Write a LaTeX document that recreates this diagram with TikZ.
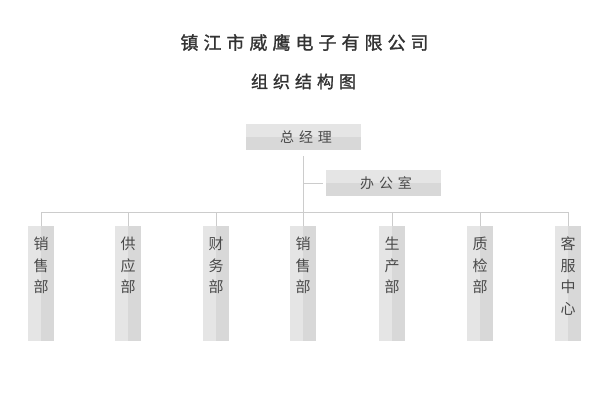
\documentclass[tikz,border=0pt]{standalone}
\usepackage{fontspec}
\newfontfamily\cjk{Noto Sans CJK SC}
\newfontfamily\cjkm[FakeBold=1.2]{Noto Sans CJK SC}
\definecolor{boxlight}{HTML}{E5E5E5}
\definecolor{boxdark}{HTML}{D8D8D8}
\definecolor{linec}{HTML}{CCCCCC}
\definecolor{titlec}{HTML}{333333}
\definecolor{textc}{HTML}{4A4A4A}
\newcommand{\csp}{\hspace{5pt}}
\begin{document}
\begin{tikzpicture}[x=1pt,y=-1pt,
  hbox/.style={rectangle,inner sep=0pt,minimum width=115pt,minimum height=26pt,fill=boxlight,
    path picture={\fill[boxdark] (path picture bounding box.west) rectangle (path picture bounding box.south east);},
    font=\cjk\fontsize{14}{16}\selectfont,text=textc},
  vbox/.style={rectangle,inner sep=0pt,minimum width=26pt,minimum height=115pt,fill=boxlight,
    path picture={\fill[boxdark] (path picture bounding box.north) rectangle (path picture bounding box.south east);}},
  vtext/.style={anchor=north,inner sep=0pt,align=center,font=\cjk\fontsize{15}{21.5}\selectfont,text=textc},
  conn/.style={draw=linec,line width=1pt}]
\fill[white] (0,0) rectangle (600,400);
\useasboundingbox (0,0) rectangle (600,400);
\node[font=\cjkm\fontsize{18}{20}\selectfont,text=titlec] (title) at (302,42.5)
  {\hspace{5pt}镇\csp 江\csp 市\csp 威\csp 鹰\csp 电\csp 子\csp 有\csp 限\csp 公\csp 司};
\node[font=\cjkm\fontsize{17}{19}\selectfont,text=titlec] (sub) at (301,81.5)
  {\hspace{5pt}组\csp 织\csp 结\csp 构\csp 图};
\node[hbox] (gm) at (303.5,137) {\hspace{5pt}总\csp 经\csp 理};
\node[hbox] (office) at (383.5,183) {\hspace{5pt}办\csp 公\csp 室};
\foreach \i/\x in {1/41,2/128,3/216,4/303,5/392,6/480,7/568}{
  \node[vbox] (d\i) at (\x,283.5) {};
  \coordinate (s\i) at (\x,212);
}
\node[vtext] (t1) at ([yshift=-11pt]d1.north) {销\\售\\部};
\node[vtext] (t2) at ([yshift=-11pt]d2.north) {供\\应\\部};
\node[vtext] (t3) at ([yshift=-11pt]d3.north) {财\\务\\部};
\node[vtext] (t4) at ([yshift=-11pt]d4.north) {销\\售\\部};
\node[vtext] (t5) at ([yshift=-11pt]d5.north) {生\\产\\部};
\node[vtext] (t6) at ([yshift=-11pt]d6.north) {质\\检\\部};
\node[vtext] (t7) at ([yshift=-11pt]d7.north) {客\\服\\中\\心};
\coordinate (top) at (303,156);
\coordinate (oj) at (303,183);
\coordinate (oe) at (323,183);
\draw[conn] (top) -- (s4);
\draw[conn] (oj) -- (oe);
\draw[conn] (s1) -- (s7);
\foreach \i in {1,...,7}{\draw[conn] (s\i) -- (d\i.north);}
\end{tikzpicture}
\end{document}
